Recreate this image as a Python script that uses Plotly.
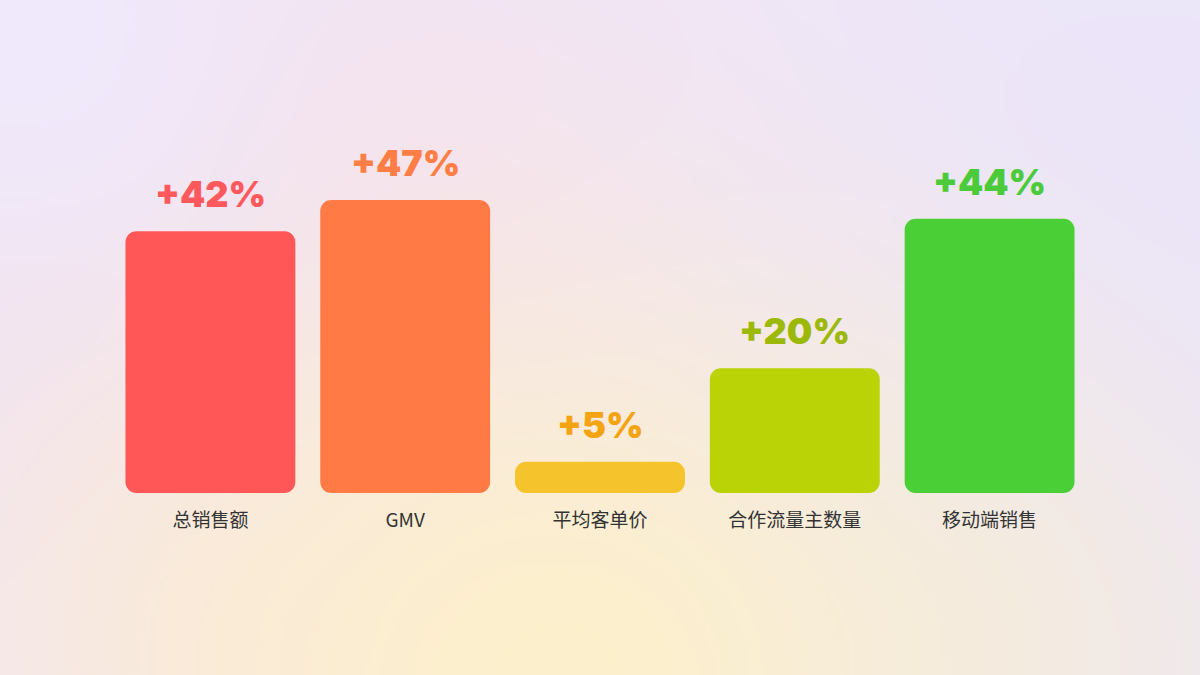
import numpy as np
import plotly.graph_objects as go

# chart data
categories = ["总销售额", "GMV", "平均客单价", "合作流量主数量", "移动端销售"]
growth = [42, 47, 5, 20, 44]
growth_labels = ["+42%", "+47%", "+5%", "+20%", "+44%"]
bar_colors = ["#FF5658", "#FF7A44", "#F5C42C", "#B9D306", "#4BCF37"]
label_colors = ["#FF595D", "#FF7E45", "#F4A312", "#9CB809", "#4CCB3A"]

W, H = 1200, 675


def soft_background(w, h, step=5):
    # pastel blobs blended over a lavender base
    xs = np.arange(0, w, step) + step / 2
    ys = np.arange(0, h, step) + step / 2
    gx, gy = np.meshgrid(xs, ys)
    base = np.array([239, 233, 249], dtype=float)
    img = np.tile(base, (len(ys), len(xs), 1))
    blobs = [
        ((1150, 250), 320, (235, 229, 251)),
        ((350, 260), 300, (245, 226, 240)),
        ((80, 300), 160, (241, 227, 243)),
        ((950, 640), 240, (242, 234, 228)),
        ((250, 640), 220, (248, 232, 224)),
        ((560, 690), 260, (253, 240, 204)),
        ((30, 30), 150, (240, 234, 252)),
    ]
    for (cx, cy), r, col in blobs:
        wgt = np.exp(-((gx - cx) ** 2 + (gy - cy) ** 2) / (2 * r ** 2))
        img += wgt[..., None] * (np.array(col, dtype=float) - img)
    return np.clip(img, 0, 255).astype(np.uint8), step


bg, step = soft_background(W, H)

fig = go.Figure()

fig.add_trace(go.Image(
    z=bg, x0=step / 2, y0=step / 2, dx=step, dy=step,
    xaxis="x", yaxis="y", hoverinfo="skip", zsmooth="fast",
))

# bars hang down from their value to zero: with a base set plotly rounds
# both ends, which gives the pill-cornered bars of the original
fig.add_trace(go.Bar(
    x=categories,
    y=[-v for v in growth],
    base=growth,
    marker=dict(color=bar_colors, cornerradius=11, line=dict(width=0)),
    width=0.872,
    xaxis="x2",
    yaxis="y2",
    hoverinfo="skip",
))

for cat, val, txt, col in zip(categories, growth, growth_labels, label_colors):
    fig.add_annotation(
        x=cat, y=val, xref="x2", yref="y2",
        text=txt, showarrow=False,
        yanchor="bottom", yshift=13,
        font=dict(family="Inter", size=36, weight=900, color=col),
    )

fig.update_layout(
    width=W,
    height=H,
    margin=dict(l=0, r=0, t=0, b=0),
    paper_bgcolor="#F0EAF8",
    plot_bgcolor="rgba(0,0,0,0)",
    showlegend=False,
    xaxis=dict(domain=[0, 1], range=[0, W], visible=False, fixedrange=True),
    yaxis=dict(domain=[0, 1], range=[H, 0], visible=False, fixedrange=True),
    xaxis2=dict(
        domain=[113 / W, 1087 / W], anchor="y2",
        range=[-0.5, 4.5],
        showgrid=False, zeroline=False, showline=False,
        ticks="", ticklabelstandoff=14,
        tickfont=dict(family="Noto Sans CJK SC", size=19, color="#333333"),
    ),
    yaxis2=dict(
        domain=[182 / H, 556 / H], anchor="x2",
        range=[0, 60], visible=False,
    ),
)

fig.write_html(
    "out.html",
    config={"displayModeBar": False},
    post_script="document.body.style.margin='0';document.body.style.overflow='hidden';",
)
